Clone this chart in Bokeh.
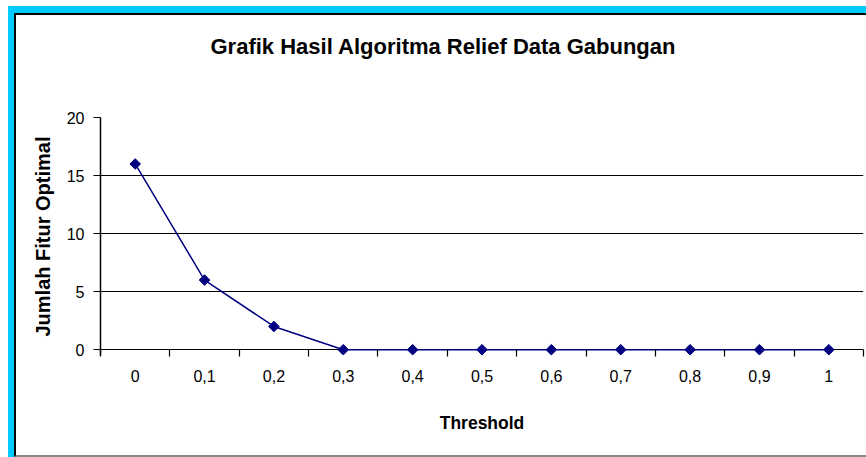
from bokeh.plotting import figure
from bokeh.models import Range1d, FixedTicker, Title, LinearAxis, ColumnDataSource
from bokeh.embed import file_html
from bokeh.resources import INLINE
import math

thresholds = ["0", "0,1", "0,2", "0,3", "0,4", "0,5", "0,6", "0,7", "0,8", "0,9", "1"]
values = [16, 6, 2, 0, 0, 0, 0, 0, 0, 0, 0]
y_ticks = [0, 5, 10, 15, 20]
title_text = "Grafik Hasil Algoritma Relief Data Gabungan"

FONT = "Liberation Sans"
NAVY = "#000080"

xs = [i + 0.5 for i in range(len(thresholds))]
src = ColumnDataSource(dict(x=xs, y=values, label=thresholds))

# y range starts a hair below 0 so the diamonds on the zero line are not clipped;
# the zero grid line serves as the category axis line
p = figure(width=852, height=444, output_backend="svg", toolbar_location=None,
           x_range=Range1d(0, len(thresholds)), y_range=Range1d(-0.5, 20),
           min_border_left=84, min_border_right=5, min_border_top=102, min_border_bottom=104,
           border_fill_alpha=0, background_fill_color="white", outline_line_color=None)
p.margin = (13, 0, 0, 14)
p.styles = {"border-top": "2px solid black", "border-left": "2px solid black",
            "border-bottom": "2px solid #888888", "background-color": "white",
            "box-shadow": "-6px 0 0 0 #00CCFF, 0 -7px 0 0 #00CCFF, -6px -7px 0 0 #00CCFF"}

p.line("x", "y", source=src, line_color=NAVY, line_width=1.5)
p.scatter("x", "y", source=src, marker="square", angle=math.pi / 4, size=7.5,
          fill_color=NAVY, line_color=NAVY)

xa = p.below[0]
ya = p.left[0]

# x axis
xa.ticker = FixedTicker(ticks=xs, minor_ticks=list(range(len(thresholds) + 1)))
xa.major_label_overrides = {x: l for x, l in zip(xs, thresholds)}
xa.axis_line_color = None
xa.major_tick_out = 0
xa.major_tick_in = 0
xa.minor_tick_out = 1
xa.minor_tick_in = 6
xa.minor_tick_line_color = "black"
xa.minor_tick_line_width = 1.2
xa.major_label_standoff = 13
xa.axis_label = "Threshold"
xa.axis_label_standoff = 28
xa.axis_label_text_font = FONT
xa.axis_label_text_font_size = "17.5px"
xa.axis_label_text_font_style = "bold"
xa.axis_label_text_color = "black"

# y axis
ya.ticker = FixedTicker(ticks=y_ticks)
ya.axis_line_color = "black"
ya.axis_line_width = 1.5
ya.major_tick_out = 7
ya.major_tick_in = 0
ya.minor_tick_line_color = None
ya.major_label_standoff = 9
ya.axis_label = "Jumlah Fitur Optimal"
ya.axis_label_standoff = 10
ya.axis_label_text_font = FONT
ya.axis_label_text_font_size = "20px"
ya.axis_label_text_font_style = "bold"
ya.axis_label_text_color = "black"

for ax in (xa, ya):
    ax.major_tick_line_color = "black"
    ax.major_label_text_font = FONT
    ax.major_label_text_font_size = "16px"
    ax.major_label_text_color = "black"

p.xgrid.grid_line_color = None
p.ygrid.ticker = FixedTicker(ticks=y_ticks)
p.ygrid.grid_line_color = "black"
p.ygrid.grid_line_width = 1.2

# spacer axis between frame and title: one white tick at the right frame edge,
# long enough to reserve the gap above the plot area
edge = len(thresholds)
spacer = LinearAxis(ticker=FixedTicker(ticks=[edge]), major_label_overrides={edge: ""},
                    axis_line_color=None, major_tick_line_color="white",
                    minor_tick_line_color=None, major_tick_out=54, major_tick_in=0,
                    minor_tick_out=0, minor_tick_in=0, major_label_standoff=0,
                    major_label_text_font_size="1px")
p.add_layout(spacer, "above")

# the plot's own title is always stacked outside the "above" axes
p.title = Title(text=title_text, align="left", offset=110, text_font=FONT,
                text_font_size="22px", text_font_style="bold", text_color="black")
p.title_location = "above"

open("out.html", "w").write(file_html(p, INLINE))
